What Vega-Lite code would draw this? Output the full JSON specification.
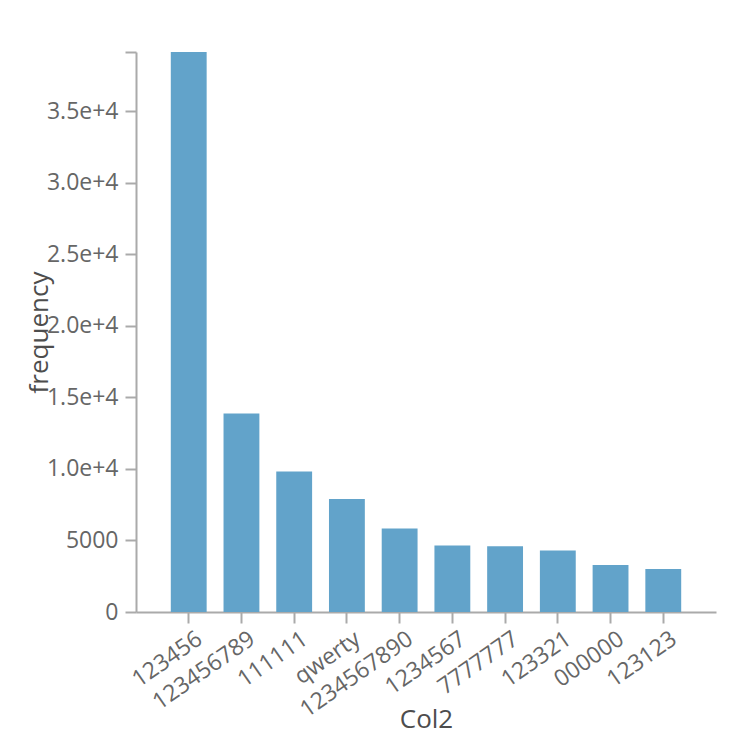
{
  "$schema": "https://vega.github.io/schema/vega-lite/v6.json",
  "autosize": {"type": "none"},
  "padding": {"left": 136, "top": 52, "right": 30, "bottom": 134},
  "width": 580,
  "height": 560,
  "config": {
    "font": "Open Sans",
    "view": {"stroke": null},
    "axis": {
      "grid": false,
      "domainColor": "#aaaaaa",
      "domainWidth": 2,
      "tickColor": "#aaaaaa",
      "tickWidth": 2,
      "tickSize": 11,
      "labelColor": "#666666",
      "labelFontSize": 23,
      "labelFont": "Open Sans",
      "titleColor": "#4d4d4d",
      "titleFontSize": 26,
      "titleFont": "Open Sans",
      "titleFontWeight": "normal"
    }
  },
  "data": {
    "values": [
      {"Col2": "123456", "frequency": 39146},
      {"Col2": "123456789", "frequency": 13876},
      {"Col2": "111111", "frequency": 9820},
      {"Col2": "qwerty", "frequency": 7903},
      {"Col2": "1234567890", "frequency": 5833},
      {"Col2": "1234567", "frequency": 4644},
      {"Col2": "7777777", "frequency": 4595},
      {"Col2": "123321", "frequency": 4294},
      {"Col2": "000000", "frequency": 3287},
      {"Col2": "123123", "frequency": 3007}
    ]
  },
  "mark": {"type": "bar", "color": "#62a3ca"},
  "encoding": {
    "x": {
      "field": "Col2",
      "type": "nominal",
      "sort": null,
      "scale": {"paddingInner": 0.32, "paddingOuter": 0.66},
      "axis": {
        "title": "Col2",
        "labelAngle": -35,
        "labelAlign": "right",
        "labelBaseline": "alphabetic",
        "labelOffset": 15,
        "labelPadding": 19,
        "titleY": 115,
        "titleBaseline": "alphabetic"
      }
    },
    "y": {
      "field": "frequency",
      "type": "quantitative",
      "scale": {"domain": [0, 39146], "nice": false},
      "axis": {
        "title": "frequency",
        "values": [0, 5000, 10000, 15000, 20000, 25000, 30000, 35000, 39146],
        "labelExpr": "datum.value == 39146 ? '' : datum.value >= 10000 ? format(datum.value, '.1e') : format(datum.value, 'd')",
        "labelPadding": 7,
        "titleAngle": -90,
        "titleAlign": "center",
        "titleBaseline": "middle",
        "titleX": -97,
        "titleY": 280
      }
    }
  }
}
